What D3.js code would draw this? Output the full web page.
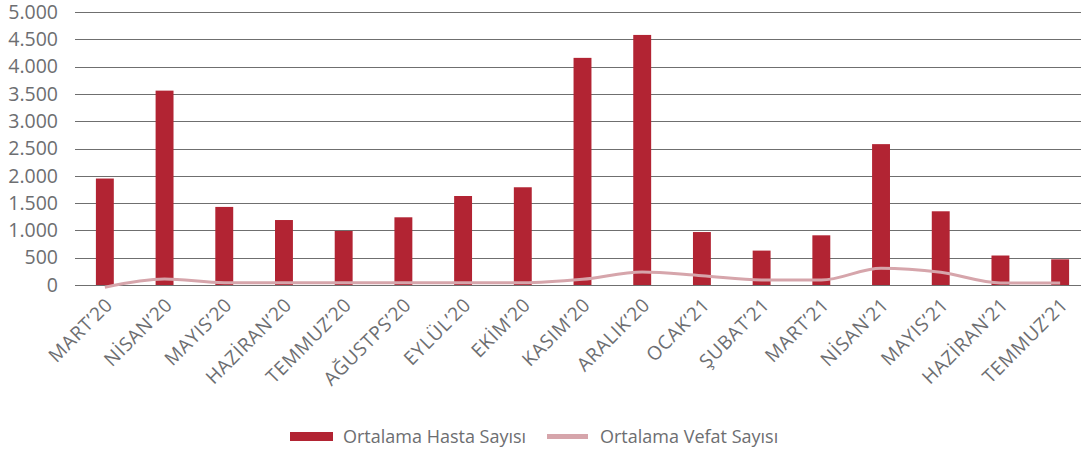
<!DOCTYPE html>
<html>
<head>
<meta charset="utf-8">
<script src="https://cdn.jsdelivr.net/npm/d3@7"></script>
<style>
  body { margin: 0; background: #fff; }
  svg text { font-family: "Open Sans", sans-serif; fill: #6d6e71; }
</style>
</head>
<body>
<script>
// months on the x axis
const months = ["MART’20", "NİSAN’20", "MAYIS’20", "HAZİRAN’20", "TEMMUZ’20", "AĞUSTPS’20",
  "EYLÜL’20", "EKİM’20", "KASIM’20", "ARALIK’20", "OCAK’21", "ŞUBAT’21", "MART’21",
  "NİSAN’21", "MAYIS’21", "HAZİRAN’21", "TEMMUZ’21"];
// average patients (bars)
const hasta = [1950, 3560, 1430, 1190, 990, 1240, 1630, 1790, 4160, 4580, 970, 630, 910, 2580, 1350, 540, 470];
// average deaths (line)
const vefat = [-40, 110, 42, 42, 42, 42, 42, 42, 105, 238, 170, 92, 92, 308, 232, 37, 37];
const yTicks = [0, 500, 1000, 1500, 2000, 2500, 3000, 3500, 4000, 4500, 5000];
const seriesNames = ["Ortalama Hasta Sayısı", "Ortalama Vefat Sayısı"];

const width = 1081, height = 452;
const margin = {top: 12, left: 75, right: -9, bottom: 167};
const innerW = width - margin.left - margin.right;
const innerH = height - margin.top - margin.bottom;

const svg = d3.select("body").append("svg")
  .attr("width", width).attr("height", height);

const g = svg.append("g")
  .attr("transform", "translate(" + margin.left + "," + margin.top + ")");

const x = d3.scaleBand().domain(months).range([0, innerW]).paddingInner(0.7).paddingOuter(0.35);
const y = d3.scaleLinear().domain([0, 5000]).range([innerH, 0]);

// gridlines
g.selectAll(".grid")
  .data(yTicks)
  .enter().append("line")
    .attr("x1", 0).attr("x2", innerW)
    .attr("y1", d => Math.round(y(d)) + 0.5)
    .attr("y2", d => Math.round(y(d)) + 0.5)
    .attr("stroke", "#6f6f6f").attr("stroke-width", 1.2);

// y axis labels
const yAxis = g.append("g")
  .call(d3.axisLeft(y).tickValues(yTicks).tickSize(0).tickPadding(17)
    .tickFormat(d => d3.format(",")(d).replace(/,/g, ".")));
yAxis.select(".domain").remove();
yAxis.selectAll("text").style("font-size", "19.5px").attr("fill", "#6d6e71");

// bars
g.selectAll(".bar")
  .data(hasta)
  .enter().append("rect")
    .attr("x", (d, i) => x(months[i]))
    .attr("width", x.bandwidth())
    .attr("y", d => y(d))
    .attr("height", d => innerH - y(d))
    .attr("fill", "#b22433");

// line
const line = d3.line()
  .x((d, i) => x(months[i]) + x.bandwidth() / 2)
  .y(d => y(d))
  .curve(d3.curveMonotoneX);
g.append("path")
  .datum(vefat)
  .attr("d", line)
  .attr("fill", "none")
  .attr("stroke", "#d6a5ab")
  .attr("stroke-width", 3);

// x axis labels
const xAxis = g.append("g")
  .attr("transform", "translate(0," + innerH + ")")
  .call(d3.axisBottom(x).tickSize(0).tickPadding(0));
xAxis.select(".domain").remove();
xAxis.selectAll("text")
  .style("font-size", "19px")
  .style("letter-spacing", "0.7px")
  .attr("fill", "#6d6e71")
  .attr("text-anchor", "end")
  .attr("dy", 0)
  .attr("transform", "translate(9,21) rotate(-45)");

// legend
const legend = svg.append("g");
legend.append("rect")
  .attr("x", 290).attr("y", 432).attr("width", 43).attr("height", 9)
  .attr("fill", "#b22433");
legend.append("text")
  .attr("x", 343).attr("y", 443)
  .style("font-size", "18px")
  .text(seriesNames[0]);
legend.append("line")
  .attr("x1", 547).attr("x2", 588).attr("y1", 436.5).attr("y2", 436.5)
  .attr("stroke", "#d6a5ab").attr("stroke-width", 5);
legend.append("text")
  .attr("x", 600).attr("y", 443)
  .style("font-size", "18px")
  .text(seriesNames[1]);
</script>
</body>
</html>
